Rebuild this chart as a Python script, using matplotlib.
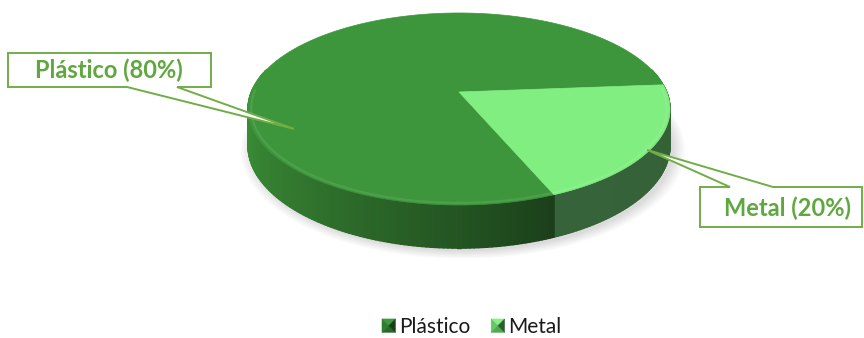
"""3D pie (Plástico / Metal) with wedge callouts, drawn in pixel space."""

import matplotlib

matplotlib.use("Agg")

import matplotlib.pyplot as plt
import numpy as np
from matplotlib.collections import PolyCollection
from matplotlib.colors import to_rgb
from matplotlib.legend_handler import HandlerBase
from matplotlib.patches import Patch, Polygon

labels = ["Plástico", "Metal"]
values = [80, 20]
label_texts = ["Plástico (80%)", "Metal (20%)"]

TOP_COLORS = ["#3D963B", "#80EE80"]
SIDE_COLORS = [("#3B8F37", "#1B3F1A"), ("#36633A", "#346034")]
# legend bevel: top, left, bottom, right
LEGEND_COLORS = [("#3F9A3F", "#2F7E2F", "#286A28", "#163F16"),
                 ("#86F086", "#62C862", "#50A850", "#2C5E2C")]
CALLOUT_EDGE = "#70AD47"
CALLOUT_TEXT = "#5FA83F"

W, H = 864, 338
# projection of the unit disc (perspective-tilted) into pixel coords
CX, CY = 459, 92
A, B, K = 207.7, 93.0, 0.177
DEPTH = 35.5
START = 4.5

# callout boxes (pixel boxes) and where their pointer lands on the disc
BOXES = [(8, 53, 211, 87), (700, 187, 862, 227)]
TIP_POLAR = [(206.5, 0.83), (325.5, 0.99)]
TEXT_POS = [(109, 70), (787, 208)]


def proj(theta_deg, r=1.0, drop=0.0):
    t = np.radians(theta_deg)
    u = r * np.cos(t)
    v = r * np.sin(t)
    den = 1 + K * v
    return CX + A * u / den, CY - B * v / den + drop / den


class BevelHandler(HandlerBase):
    def __init__(self, top, left, bottom, right):
        super().__init__()
        self.cols = (top, left, bottom, right)

    def create_artists(self, legend, orig_handle, xdescent, ydescent,
                       width, height, fontsize, trans):
        s = height * 1.0
        cx = -xdescent + width / 2
        cy = -ydescent + height / 2
        h = s / 2
        c = (cx, cy)
        tl, tr = (cx - h, cy + h), (cx + h, cy + h)
        bl, br = (cx - h, cy - h), (cx + h, cy - h)
        tris = [[tl, tr, c], [tl, bl, c], [bl, br, c], [tr, br, c]]
        arts = []
        for pts, col in zip(tris, self.cols):
            arts.append(Polygon(pts, closed=True, facecolor=col,
                                edgecolor=col, lw=0.3, transform=trans))
        return arts


def main() -> None:
    plt.rcParams["font.family"] = ["Lato", "DejaVu Sans"]

    fig = plt.figure(figsize=(W / 100, H / 100), dpi=100)
    ax = fig.add_axes([0, 0, 1, 1])
    ax.set_xlim(0, W)
    ax.set_ylim(H, 0)
    ax.axis("off")

    frac = np.array(values, dtype=float) / sum(values)
    bounds = START + np.concatenate([[0], np.cumsum(frac) * 360])

    # soft shadow under the disc
    ring = np.linspace(0, 360, 241)
    for grow in np.linspace(1.05, 1.0, 6):
        xs, ys = proj(ring, grow, DEPTH)
        ax.fill(xs + 4, ys + 3, color="black", alpha=0.025, lw=0, zorder=1)

    # side wall, painted far -> near
    quads, cols, keys = [], [], []
    for i in range(len(values)):
        t0, t1 = bounds[i], bounds[i + 1]
        n = max(int(abs(t1 - t0)), 2)
        ts = np.linspace(t0, t1, n + 1)
        c0 = np.array(to_rgb(SIDE_COLORS[i][0]))
        c1 = np.array(to_rgb(SIDE_COLORS[i][1]))
        lo = max(t0, 185.0)
        for a, b in zip(ts[:-1], ts[1:]):
            mid = (a + b) / 2
            if np.sin(np.radians(mid)) > 0.25:
                continue
            xa, ya = proj(a)
            xb, yb = proj(b)
            xa2, ya2 = proj(a, 1.0, DEPTH)
            xb2, yb2 = proj(b, 1.0, DEPTH)
            quads.append([(xa, ya), (xb, yb), (xb2, yb2), (xa2, ya2)])
            s = np.clip((mid - lo) / max(t1 - lo, 1e-6), 0, 1)
            cols.append(tuple(c0 + (c1 - c0) * s ** 1.3))
            keys.append(np.sin(np.radians(mid)))
    order = np.argsort(keys)[::-1]
    pc = PolyCollection([quads[j] for j in order],
                        facecolors=[cols[j] for j in order],
                        edgecolors=[cols[j] for j in order], linewidths=1.0,
                        zorder=2)
    ax.add_collection(pc)

    # top faces
    for i in range(len(values)):
        ts = np.linspace(bounds[i], bounds[i + 1], 200)
        xs, ys = proj(ts)
        pts = [(CX, CY)] + list(zip(xs, ys))
        ax.add_patch(Polygon(pts, closed=True, facecolor=TOP_COLORS[i],
                             edgecolor=TOP_COLORS[i], lw=0.5, zorder=3))
        # bevel highlight along the front rim
        front = ts[np.sin(np.radians(ts)) < 0.05]
        if len(front) > 1:
            hx, hy = proj(front, 0.985)
            hl = np.array(to_rgb(TOP_COLORS[i]))
            hl = hl + (1 - hl) * 0.2
            ax.plot(hx, hy, color=hl, lw=1.6, alpha=0.45, zorder=4,
                    solid_capstyle="butt")

    # wedge callouts
    for i, (x0, y0, x1, y1) in enumerate(BOXES):
        tx, ty = proj(TIP_POLAR[i][0], TIP_POLAR[i][1])
        if ty > y1:  # pointer leaves from the bottom edge
            pts = [(x0, y0), (x1, y0), (x1, y1), (x0 + 169, y1), (tx, ty),
                   (x0 + 119, y1), (x0, y1)]
        else:  # pointer leaves from the top edge
            pts = [(x0, y0), (x0 + 30, y0), (tx, ty), (x0 + 73, y0),
                   (x1, y0), (x1, y1), (x0, y1)]
        ax.add_patch(Polygon(pts, closed=True, facecolor="white",
                             edgecolor=CALLOUT_EDGE, lw=1.4, zorder=5,
                             joinstyle="miter"))
        ax.text(TEXT_POS[i][0], TEXT_POS[i][1], label_texts[i],
                ha="center", va="center", fontsize=17, fontweight="bold",
                color=CALLOUT_TEXT, zorder=6)

    handles = [Patch(facecolor=TOP_COLORS[i], label=labels[i])
               for i in range(len(labels))]
    hmap = {h: BevelHandler(*LEGEND_COLORS[i]) for i, h in enumerate(handles)}
    ax.legend(handles=handles, handler_map=hmap, loc="center",
              bbox_to_anchor=(472 / W, 1 - 327 / H), ncol=2, frameon=False,
              fontsize=15, handlelength=0.62, handleheight=0.62,
              handletextpad=0.2, columnspacing=1.0, labelcolor="#1A1A1A")

    fig.savefig("out.png", dpi=100)
    plt.close(fig)


if __name__ == "__main__":
    main()
